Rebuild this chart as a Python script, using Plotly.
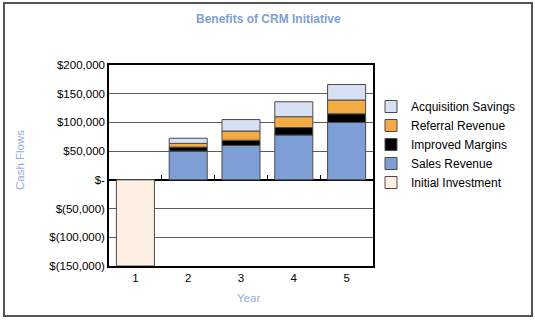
import plotly.graph_objects as go

years = [1, 2, 3, 4, 5]
initial_investment = [-150000, None, None, None, None]
sales_revenue = [None, 50000, 60000, 78000, 100000]
improved_margins = [None, 7000, 9000, 13000, 15000]
referral_revenue = [None, 6500, 16000, 19000, 24000]
acquisition_savings = [None, 9000, 20000, 26000, 27000]

y_tickvals = [200000, 150000, 100000, 50000, 0, -50000, -100000, -150000]
y_ticktext = ["$200,000", "$150,000", "$100,000", "$50,000", "$-",
              "$(50,000)", "$(100,000)", "$(150,000)"]
between_ticks = [1.5, 2.5, 3.5, 4.5]

W, H = 535, 322
L, R, T, B = 109, 162, 65, 56
pw, ph = W - L - R, H - T - B

def px_x(x):
    return (x - L) / pw

def px_y(y):
    return 1 - (y - T) / ph

FONT = "Liberation Sans, Arial, sans-serif"
BLUE_TXT = "#7f9fd4"
outline = dict(color="#4a4a4a", width=1)

series = [
    ("Initial Investment", initial_investment, "#fdf0e2"),
    ("Sales Revenue", sales_revenue, "#7d9fd6"),
    ("Improved Margins", improved_margins, "#000000"),
    ("Referral Revenue", referral_revenue, "#f5ab45"),
    ("Acquisition Savings", acquisition_savings, "#d8e1f3"),
]

fig = go.Figure()
for name, vals, col in series:
    fig.add_trace(go.Bar(x=years, y=vals, name=name, width=0.72,
                         marker=dict(color=col, line=outline)))

# helper trace to show the between-category ticks on the zero line
fig.add_trace(go.Scatter(x=[None], y=[None], xaxis="x2", showlegend=False,
                         hoverinfo="skip"))

y0, y1 = -150000, 200000
zero_frac = (0 - y0) / (y1 - y0)

fig.update_layout(
    width=W, height=H,
    margin=dict(l=L, r=R, t=T, b=B),
    paper_bgcolor="white", plot_bgcolor="white",
    barmode="relative",
    font=dict(family=FONT, size=11, color="#000000"),
    showlegend=True,
    legend=dict(traceorder="reversed", x=px_x(371), y=px_y(92),
                xanchor="left", yanchor="top",
                font=dict(family=FONT, size=12, color="#000000"),
                itemwidth=30, tracegroupgap=0, bgcolor="rgba(0,0,0,0)"),
    xaxis=dict(range=[0.5, 5.5], tickvals=years, ticktext=[str(v) for v in years],
               showgrid=False, zeroline=False, showline=True, linecolor="#000000",
               linewidth=1.5, mirror=True, ticks="", tickfont=dict(size=11.5)),
    xaxis2=dict(range=[0.5, 5.5], overlaying="x", anchor="free", position=zero_frac,
                side="bottom", tickvals=between_ticks, ticks="inside", ticklen=5,
                tickcolor="#000000", tickwidth=1, showticklabels=False,
                showgrid=False, zeroline=False, showline=False),
    yaxis=dict(range=[y0, y1], tickvals=y_tickvals, ticktext=y_ticktext,
               showgrid=True, gridcolor="#5a5a5a", gridwidth=1,
               zeroline=True, zerolinecolor="#000000", zerolinewidth=1.5,
               showline=True, linecolor="#000000", linewidth=1.5, mirror=True,
               ticks="", tickfont=dict(size=11.5)),
)

fig.add_annotation(text="<b>Benefits of CRM Initiative</b>", xref="paper", yref="paper",
                   x=px_x(268), y=px_y(19), xanchor="center", yanchor="middle",
                   showarrow=False,
                   font=dict(family=FONT, size=12, color=BLUE_TXT))
fig.add_annotation(text="Cash Flows", xref="paper", yref="paper",
                   x=px_x(20), y=px_y(160), xanchor="center", yanchor="middle",
                   showarrow=False, textangle=-90,
                   font=dict(family=FONT, size=11.5, color="#93acd9"))
fig.add_annotation(text="Year", xref="paper", yref="paper",
                   x=px_x(248), y=px_y(298), xanchor="center", yanchor="middle",
                   showarrow=False,
                   font=dict(family=FONT, size=11.5, color="#93acd9"))

# outer frame
fig.add_shape(type="rect", xref="paper", yref="paper",
              x0=px_x(4), x1=px_x(532), y0=px_y(316), y1=px_y(3),
              line=dict(color="#555555", width=2), fillcolor="rgba(0,0,0,0)",
              layer="below")

fig.write_html("out.html")
